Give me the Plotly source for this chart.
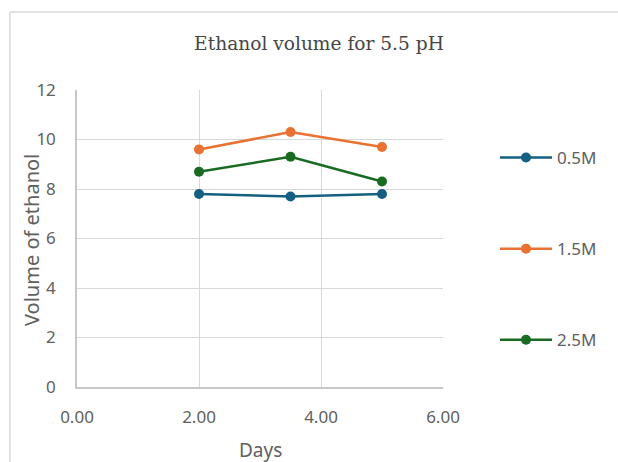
import plotly.graph_objects as go

# Sampling days and ethanol volumes per molarity
days = [2.0, 3.5, 5.0]
series_names = ["0.5M", "1.5M", "2.5M"]
vol_05 = [7.8, 7.7, 7.8]
vol_15 = [9.6, 10.3, 9.7]
vol_25 = [8.7, 9.3, 8.3]
colors = ["#156082", "#E97132", "#196B24"]

x_ticks = [0, 2, 4, 6]
y_ticks = [0, 2, 4, 6, 8, 10, 12]

W, H = 618, 462
L, R, T, B = 77, 175, 90, 75
PW, PH = W - L - R, H - T - B

fig = go.Figure()
for i, (name, vals) in enumerate(zip(series_names, [vol_05, vol_15, vol_25])):
    fig.add_trace(go.Scatter(
        x=days, y=vals, name=name, mode="lines+markers",
        line=dict(color=colors[i], width=2.5),
        marker=dict(color=colors[i], size=10),
        legendgroup=name,
    ))


def px_x(px):
    return (px - L) / PW


def px_y(py):
    return (H - B - py) / PH


grid = "#d9d9d9"
sans = "Noto Sans, sans-serif"
text_grey = "#606060"
tick_font = dict(family=sans, size=17, color=text_grey)

fig.update_layout(
    width=W, height=H,
    margin=dict(l=L, r=R, t=T, b=B),
    paper_bgcolor="white", plot_bgcolor="white",
    title=dict(text="Ethanol volume for 5.5 pH", x=319 / W, xanchor="center",
               y=1 - 43 / H, yanchor="middle",
               font=dict(family="DejaVu Serif, serif", size=18.6, color="#454545")),
    xaxis=dict(range=[0, 6], tickvals=x_ticks, tickformat=".2f", showgrid=True,
               gridcolor=grid, gridwidth=1, showline=True, linecolor="#c8c8c8",
               linewidth=1.5, zeroline=False, ticks="", tickfont=tick_font,
               ticklabelstandoff=14),
    yaxis=dict(range=[0, 12], tickvals=y_ticks, showgrid=True, gridcolor=grid,
               gridwidth=1, showline=True, linecolor="#c8c8c8", linewidth=1.5,
               zeroline=False, ticks="", tickfont=tick_font,
               ticklabelstandoff=16),
    legend=dict(x=px_x(495), y=px_y(140), xanchor="left", yanchor="top",
                tracegroupgap=66, itemwidth=52,
                font=dict(family=sans, size=17, color=text_grey),
                bgcolor="rgba(0,0,0,0)"),
    annotations=[
        dict(text="Volume of ethanol", xref="paper", yref="paper",
             x=px_x(32), y=px_y(240), textangle=-90, showarrow=False,
             xanchor="center", yanchor="middle",
             font=dict(family=sans, size=20, color=text_grey)),
        dict(text="Days", xref="paper", yref="paper",
             x=px_x(260), y=px_y(450), showarrow=False,
             xanchor="center", yanchor="middle",
             font=dict(family=sans, size=19, color=text_grey)),
    ],
    shapes=[
        dict(type="line", xref="paper", yref="paper", x0=px_x(10), x1=px_x(618),
             y0=px_y(12), y1=px_y(12), line=dict(color="#d9d9d9", width=1.5)),
        dict(type="line", xref="paper", yref="paper", x0=px_x(10), x1=px_x(10),
             y0=px_y(12), y1=px_y(462), line=dict(color="#d9d9d9", width=1.5)),
    ],
)

fig.write_html("out.html")
